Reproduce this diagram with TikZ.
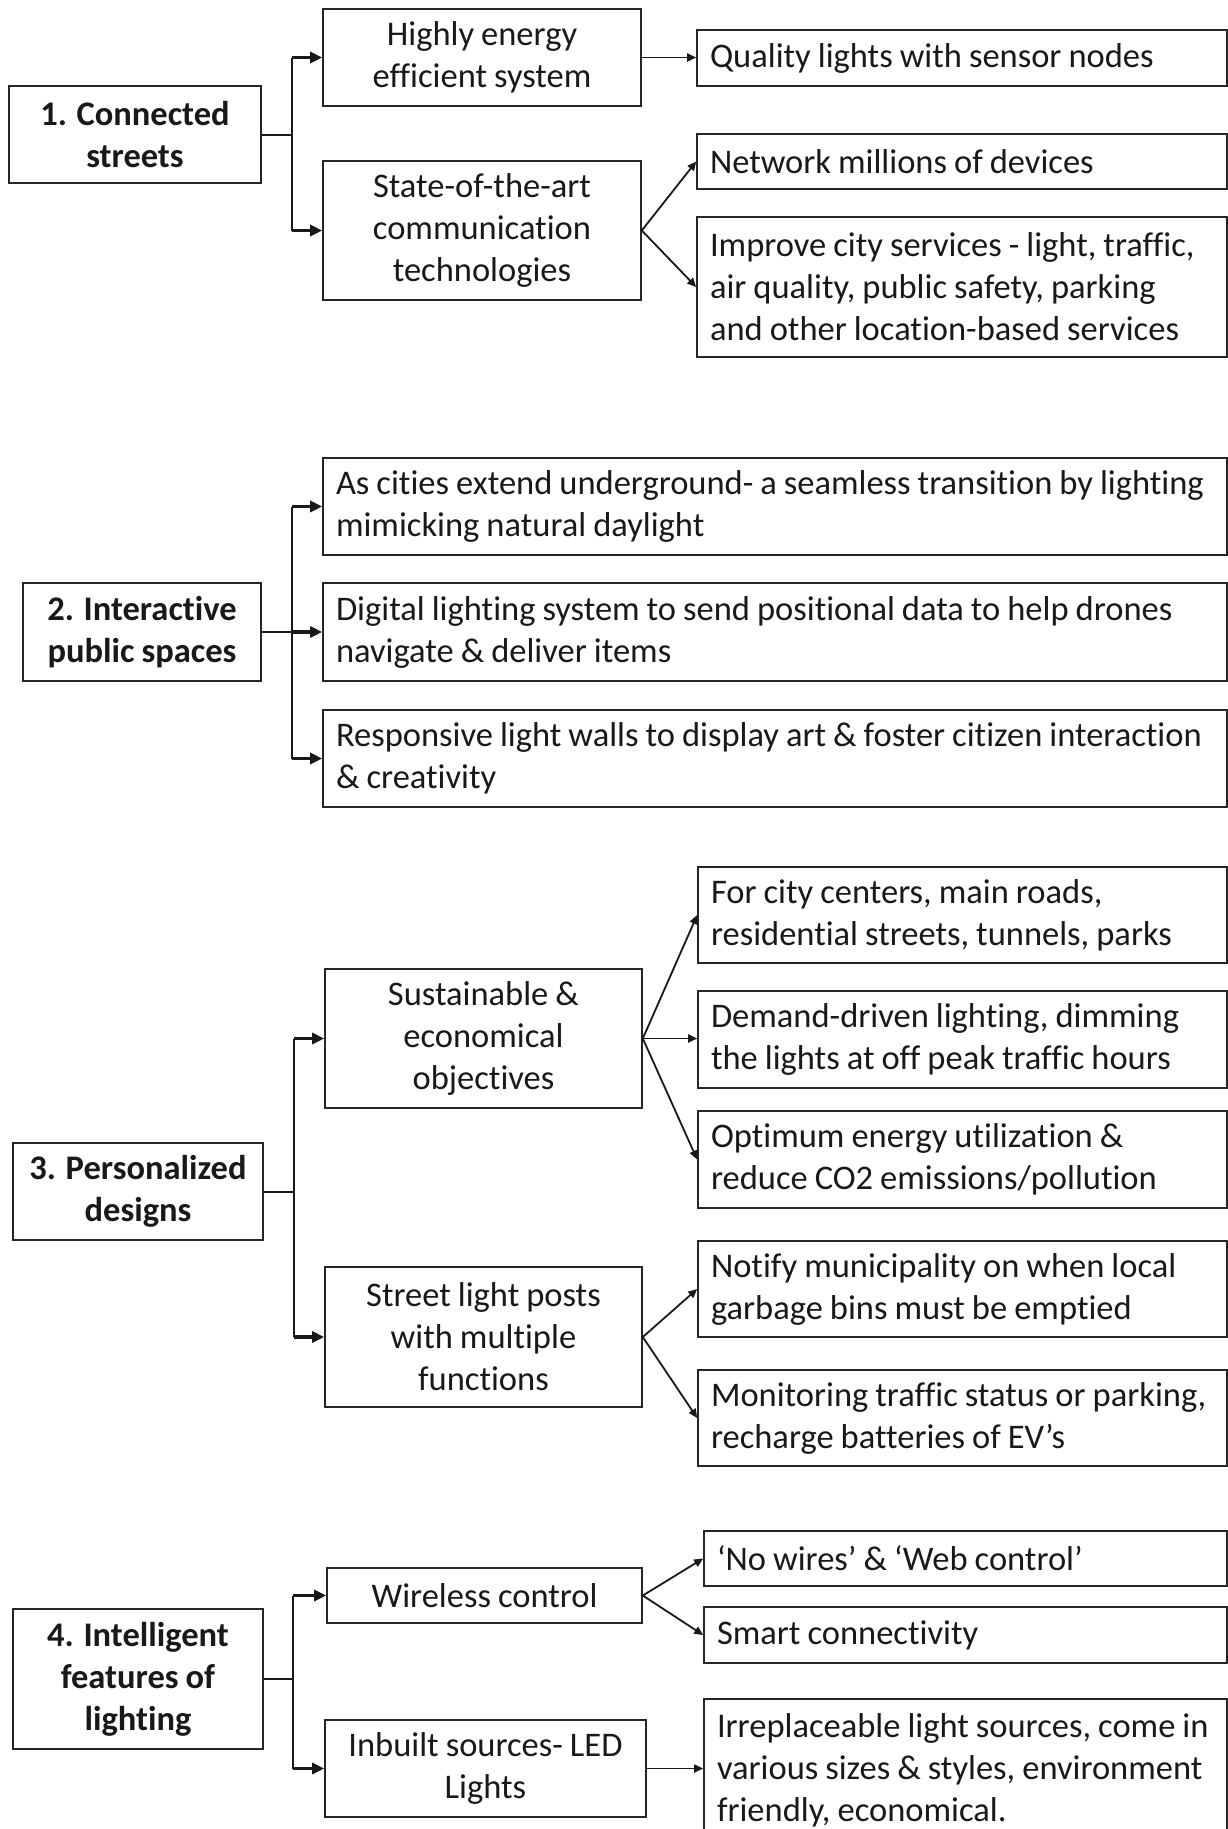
\documentclass[tikz,border=0pt]{standalone}
\usepackage{fontspec}
\setmainfont{Carlito}[WordSpace=0.9, Ligatures=NoCommon, Contextuals=NoAlternate]
\usetikzlibrary{arrows.meta}
\newcommand\oneln[1]{\mbox{\spaceskip=0pt\xspaceskip=0pt #1}}
\begin{document}
\begin{tikzpicture}[x=1pt,y=-1pt,
  box/.style={draw=black!85, line width=1.6pt, rectangle, inner sep=0pt,
    font=\fontsize{34.5}{42}\selectfont, text=black!90},
  rootbox/.style={box, align=center, font=\fontsize{34.5}{42}\selectfont\bfseries},
  midbox/.style={box, align=center},
  leafbox/.style={box, align=left, inner xsep=13pt},
  trunk/.style={draw=black!90, line width=2pt, line join=round},
  bigarrow/.style={draw=black!90, line width=3.5pt, -{Triangle[length=12pt,width=11pt]}},
  smallarrow/.style={draw=black!90, line width=1.8pt, -{Triangle[length=9pt,width=8pt]}}
]
\clip (0,0) rectangle (1228,1829);
\fill[white] (0,0) rectangle (1228,1829);

% ---------------- Section 1 ----------------
\node[rootbox, minimum width=252pt, minimum height=97pt] (r1) at (135,134.5) {1. Connected\\streets};
\node[midbox, minimum width=318pt, minimum height=97pt] (s1a) at (482,57.5) {Highly energy\\efficient system};
\node[midbox, minimum width=318pt, minimum height=139pt] (s1b) at (482,230.5) {State-of-the-art\\communication\\technologies};
\node[leafbox, text width=504pt, minimum height=56pt] (l1a) at (962,58) {\oneln{Quality lights with sensor nodes}};
\node[leafbox, text width=504pt, minimum height=55pt] (l1b) at (962,161.5) {\oneln{Network millions of devices}};
\node[leafbox, text width=504pt, minimum height=140pt] (l1c) at (962,287) {\oneln{Improve city services - light, traffic,}\\\oneln{air quality, public safety, parking}\\\oneln{and other location-based services}};
\coordinate (b1) at (292,134.5);
\draw[trunk] (r1.east) -- (b1);
\draw[trunk] (b1 |- s1a.west) -- (b1 |- s1b.west);
\draw[bigarrow] (b1 |- s1a.west) -- (s1a.west);
\draw[bigarrow] (b1 |- s1b.west) -- (s1b.west);
\draw[smallarrow] (s1a.east) -- (s1a.east -| l1a.west);
\draw[smallarrow] (s1b.east) -- (l1b.west);
\draw[smallarrow] (s1b.east) -- (l1c.west);

% ---------------- Section 2 ----------------
\node[rootbox, minimum width=238pt, minimum height=98pt] (r2) at (142,632) {2. Interactive\\public spaces};
\node[leafbox, text width=878pt, minimum height=97pt] (s2a) at (775,506.5) {\oneln{As cities extend underground- a seamless transition by lighting}\\\oneln{mimicking natural daylight}};
\node[leafbox, text width=878pt, minimum height=98pt] (s2b) at (775,632) {\oneln{Digital lighting system to send positional data to help drones}\\\oneln{navigate \& deliver items}};
\node[leafbox, text width=878pt, minimum height=97pt] (s2c) at (775,758.5) {\oneln{Responsive light walls to display art \& foster citizen interaction}\\\oneln{\& creativity}};
\coordinate (b2) at (292,632);
\draw[trunk] (r2.east) -- (b2);
\draw[trunk] (b2 |- s2a.west) -- (b2 |- s2c.west);
\draw[bigarrow] (b2 |- s2a.west) -- (s2a.west);
\draw[bigarrow] (b2) -- (s2b.west);
\draw[bigarrow] (b2 |- s2c.west) -- (s2c.west);

% ---------------- Section 3 ----------------
\node[rootbox, minimum width=250pt, minimum height=97pt] (r3) at (138,1191.5) {3. Personalized\\designs};
\node[midbox, minimum width=317pt, minimum height=139pt] (s3a) at (483.5,1038.5) {Sustainable \&\\economical\\objectives};
\node[midbox, minimum width=317pt, minimum height=140pt] (s3b) at (483.5,1337) {Street light posts\\with multiple\\functions};
\node[leafbox, text width=503pt, minimum height=96pt] (l3a) at (962.5,915) {\oneln{For city centers, main roads,}\\\oneln{residential streets, tunnels, parks}};
\node[leafbox, text width=503pt, minimum height=97pt] (l3b) at (962.5,1039.5) {\oneln{Demand-driven lighting, dimming}\\\oneln{the lights at off peak traffic hours}};
\node[leafbox, text width=503pt, minimum height=97pt] (l3c) at (962.5,1159.5) {\oneln{Optimum energy utilization \&}\\\oneln{reduce CO2 emissions/pollution}};
\node[leafbox, text width=503pt, minimum height=96pt] (l3d) at (962.5,1289) {\oneln{Notify municipality on when local}\\\oneln{garbage bins must be emptied}};
\node[leafbox, text width=503pt, minimum height=96pt] (l3e) at (962.5,1418) {\oneln{Monitoring traffic status or parking,}\\\oneln{recharge batteries of EV’s}};
\coordinate (b3) at (294,1191.5);
\draw[trunk] (r3.east) -- (b3);
\draw[trunk] (b3 |- s3a.west) -- (b3 |- s3b.west);
\draw[bigarrow] (b3 |- s3a.west) -- (s3a.west);
\draw[bigarrow] (b3 |- s3b.west) -- (s3b.west);
\draw[smallarrow] (s3a.east) -- (l3a.west);
\draw[smallarrow] (s3a.east) -- (s3a.east -| l3b.west);
\draw[smallarrow] (s3a.east) -- (l3c.west);
\draw[smallarrow] (s3b.east) -- (l3d.west);
\draw[smallarrow] (s3b.east) -- (l3e.west);

% ---------------- Section 4 ----------------
\node[rootbox, minimum width=250pt, minimum height=140pt] (r4) at (138,1679) {4. Intelligent\\features of\\lighting};
\node[midbox, minimum width=315pt, minimum height=55pt] (s4a) at (484.5,1595.5) {Wireless control};
\node[midbox, minimum width=321pt, minimum height=97pt] (s4b) at (485.5,1768.5) {Inbuilt sources- LED\\Lights};
\node[leafbox, text width=497pt, minimum height=55pt] (l4a) at (965.5,1558.5) {\oneln{‘No wires’ \& ‘Web control’}};
\node[leafbox, text width=497pt, minimum height=56pt] (l4b) at (965.5,1635) {\oneln{Smart connectivity}};
\node[leafbox, text width=497pt, minimum height=142pt] (l4c) at (965.5,1770) {\oneln{Irreplaceable light sources, come in}\\\oneln{various sizes \& styles, environment}\\\oneln{friendly, economical.}};
\coordinate (b4) at (293,1679);
\draw[trunk] (r4.east) -- (b4);
\draw[trunk] (b4 |- s4a.west) -- (b4 |- s4b.west);
\draw[bigarrow] (b4 |- s4a.west) -- (s4a.west);
\draw[bigarrow] (b4 |- s4b.west) -- (s4b.west);
\draw[smallarrow] (s4a.east) -- (l4a.west);
\draw[smallarrow] (s4a.east) -- (l4b.west);
\draw[smallarrow] (s4b.east) -- (s4b.east -| l4c.west);
\end{tikzpicture}
\end{document}
